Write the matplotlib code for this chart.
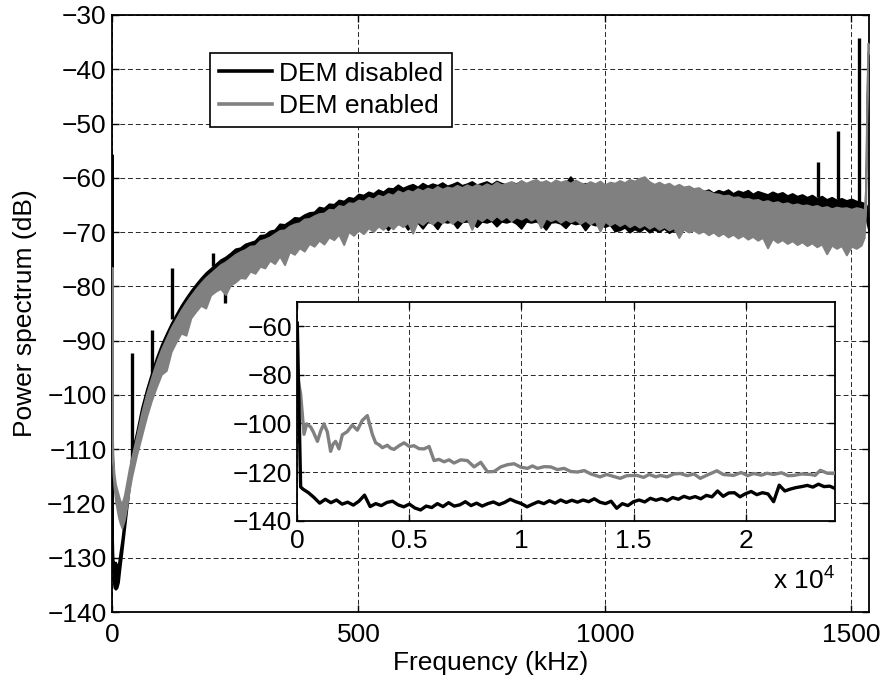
import numpy as np
import matplotlib
matplotlib.use("Agg")
import matplotlib.pyplot as plt

plt.rcParams["font.family"] = ["Liberation Sans", "DejaVu Sans"]
plt.rcParams["mathtext.fontset"] = "custom"
plt.rcParams["mathtext.rm"] = "Liberation Sans"
FS = 19

# ---------------- main spectrum (kHz, dB) ----------------
freq_khz = np.concatenate([
    [0, 0.8, 2, 4, 7, 10, 13, 16, 20, 25, 30, 35, 40, 45, 50],
    np.arange(60, 241, 10),
    np.arange(250, 1521, 10),
    [1526, 1529, 1531, 1533.5, 1536],
])

# DEM disabled: upper / lower envelope of the noisy trace
dis_hi = [
    -55.7, -126, -130.5, -131, -130.8, -131.5, -131, -129, -126.5, -122.5, -118.5, -115, -110.8, -108.7, -106.7,
    -102.3, -98.9, -95.9, -93.1, -90.7, -88.7, -86.8, -85.1, -83.5, -82.1, -80.8, -79.6, -78.5, -77.5, -76.7,
    -75.9, -75.1, -74.6, -73.9,
    -73.1, -72.9, -72.2, -71.9, -71.6, -70.6, -70.5, -69.8, -69.6, -68.5, -68.6, -68.0, -67.3, -67.4,
    -66.8, -66.4, -66.3, -65.4, -65.6, -64.8, -64.9, -64.1, -64.3, -63.6, -63.8, -63.0, -63.2, -62.6,
    -62.9, -62.2, -62.6, -61.9, -62.0, -61.3, -61.9, -61.5, -61.2, -61.7, -61.0, -61.5, -61.1, -61.4,
    -60.9, -61.5, -61.2, -60.8, -61.4, -61.1, -60.7, -61.3, -61.0, -60.7, -61.2, -60.6, -61.0, -61.3,
    -60.8, -61.1, -60.6, -61.2, -60.9, -61.3, -60.8, -61.0, -61.4, -60.9, -61.2, -61.0, -59.8, -61.1,
    -61.4, -61.0, -61.5, -61.2, -61.6, -61.3, -61.8, -61.4, -61.9, -61.6, -62.0, -61.7, -62.2, -61.8,
    -62.3, -62.0, -62.4, -61.9, -62.5, -62.2, -62.6, -62.0, -62.4, -62.7, -62.1, -62.5, -62.2, -62.8,
    -62.3, -62.6, -62.2, -62.9, -62.4, -62.7, -62.3, -63.0, -62.5, -62.8, -63.1, -62.6, -63.0, -62.7,
    -63.3, -62.9, -63.4, -63.1, -63.6, -63.2, -63.8, -63.4, -64.0, -63.6, -64.1, -63.8, -64.2, -63.9,
    -64.3, -64.5,
    -64.7, -64.9, -65.2, -67.0, -69.6,
]
dis_lo = [
    -56.2, -128, -134, -135.5, -135.8, -135.5, -134.5, -132, -129, -125, -121, -117, -114, -111, -108.5,
    -104, -100.5, -97.5, -95, -92.5, -90.4, -88.5, -86.9, -85.5, -84.2, -83, -81.8, -80.8, -79.9, -79.2,
    -78.6, -78.2, -77.9, -77.7,
    -77.5, -77.0, -76.6, -76.2, -75.7, -75.2, -74.8, -74.4, -74.0, -73.6, -73.2, -72.8, -72.5, -72.1,
    -71.8, -71.5, -71.2, -70.9, -70.6, -70.3, -70.1, -69.8, -69.6, -69.4, -69.2, -69.0, -68.8, -68.6,
    -69.5, -68.5, -68.4, -69.6, -68.3, -68.5, -68.2, -69.5, -68.3, -68.2, -69.3, -68.1, -68.3, -69.4,
    -68.0, -68.2, -68.0, -69.2, -68.1, -68.0, -68.3, -69.0, -68.0, -68.2, -67.9, -68.9, -68.0, -68.2,
    -67.9, -68.4, -69.3, -68.0, -68.2, -68.0, -68.4, -69.5, -68.2, -68.1, -68.4, -69.2, -68.2, -68.5,
    -68.3, -69.6, -68.4, -68.7, -68.5, -69.0, -68.6, -69.8, -69.6, -69.1, -70.0, -69.4, -69.9, -69.2,
    -70.0, -69.5, -69.9, -69.3, -70.1, -69.6, -70.0, -69.4, -69.9, -69.5, -69.8, -69.3, -69.0, -69.2,
    -68.8, -68.9, -68.6, -68.8, -68.4, -68.6, -68.3, -68.4, -68.1, -68.3, -68.0, -68.1, -67.8, -68.0,
    -67.7, -67.9, -67.6, -67.8, -67.5, -67.7, -67.4, -67.6, -67.3, -67.5, -67.2, -67.4, -67.1, -67.3,
    -67.0, -67.2,
    -67.4, -67.6, -68.0, -69.0, -70.0,
]

# DEM enabled: upper / lower envelope
en_hi = [
    -76.5, -108, -112, -114.5, -116.5, -117.5, -118.5, -119.5, -120, -118.5, -116, -113.5, -111.5, -109.5, -107.5,
    -103.3, -99.8, -96.8, -94.0, -91.6, -89.6, -87.6, -86.0, -84.4, -83.0, -81.7, -80.5, -79.4, -78.4, -77.6,
    -76.8, -76.0, -75.5, -74.8,
    -74.1, -73.6, -73.2, -72.6, -72.5, -71.6, -71.3, -70.9, -70.3, -69.7, -69.6, -68.9, -68.5, -68.3,
    -67.6, -67.5, -67.0, -66.6, -66.5, -65.8, -65.9, -65.1, -65.3, -64.6, -64.7, -64.1, -64.3, -63.6,
    -63.9, -63.2, -63.5, -62.9, -63.2, -62.4, -62.8, -62.3, -62.6, -62.0, -62.4, -61.9, -62.2, -61.6,
    -62.1, -61.7, -61.9, -61.4, -61.8, -61.3, -61.7, -61.2, -61.6, -61.1, -61.5, -60.8, -61.3, -61.0,
    -60.7, -61.2, -60.5, -61.0, -60.6, -60.3, -60.9, -60.5, -61.0, -60.4, -60.8, -60.5, -61.0, -60.4,
    -60.9, -61.2, -60.7, -61.1, -60.6, -61.3, -60.8, -61.0, -60.5, -60.9, -60.3, -60.6, -60.1, -59.8,
    -60.7, -61.2, -60.8, -61.3, -61.0, -61.6, -61.2, -61.7, -61.5, -62.0, -61.8, -62.4, -62.5, -62.9,
    -63.0, -63.3, -63.2, -63.6, -63.5, -63.9, -63.8, -64.1, -64.0, -64.4, -64.2, -64.6, -64.4, -64.8,
    -64.6, -65.0, -64.8, -65.1, -65.0, -65.3, -65.1, -65.5, -65.3, -65.7, -65.4, -65.6, -65.5, -65.8,
    -65.5, -65.7,
    -66.0, -62.0, -48.0, -35.2, -35.5,
]
en_lo = [
    -77, -110, -114.5, -117, -119.5, -121, -122.5, -123.5, -124.5, -123, -120.5, -117.5, -115, -113, -111,
    -107.5, -104, -101, -98.5, -96.2, -95.5, -92, -90.2, -88.6, -89.0, -85.8, -84.6, -83.5, -84.0, -81.6,
    -80.9, -80.4, -81.5, -79.8,
    -79.2, -78.4, -78.5, -77.2, -77.6, -76.3, -76.6, -75.2, -75.8, -74.4, -76.0, -73.6, -74.1, -72.9,
    -73.5, -72.1, -72.6, -71.5, -72.2, -70.9, -71.4, -70.4, -72.3, -69.9, -70.6, -69.6, -70.3, -69.2,
    -69.9, -68.9, -69.5, -68.6, -69.4, -68.4, -69.0, -68.2, -70.2, -68.0, -68.6, -67.8, -68.5, -67.7,
    -68.3, -67.5, -68.4, -67.6, -68.1, -67.4, -69.5, -67.3, -67.9, -67.2, -67.8, -67.0, -67.7, -67.1,
    -67.9, -67.2, -67.6, -67.1, -67.8, -67.3, -69.2, -67.4, -67.9, -67.5, -68.2, -67.6, -68.1, -67.7,
    -68.4, -67.8, -68.5, -67.9, -69.8, -68.0, -68.7, -68.2, -68.8, -68.3, -69.0, -68.5, -69.1, -68.6,
    -69.3, -68.8, -69.5, -69.0, -69.6, -69.2, -71.0, -69.4, -70.0, -69.6, -70.2, -69.8, -70.5, -70.0,
    -70.7, -70.2, -70.9, -70.4, -71.1, -70.6, -71.3, -70.8, -71.5, -71.0, -72.9, -71.2, -71.9, -71.4,
    -72.1, -71.6, -72.3, -71.8, -72.5, -72.0, -72.7, -72.2, -74.0, -72.4, -73.0, -72.5, -74.2, -72.6,
    -73.0, -72.4,
    -71.0, -66.0, -50.0, -37.0, -37.0,
]

# narrow tones on the DEM-disabled trace
tone_khz = [40.5, 81, 121.6, 204.7, 229.6, 1433, 1473, 1515.5]
tone_from = [-111.5, -96.0, -86.0, -76.2, -77.7, -63.6, -64.0, -64.4]
tone_to = [-92.2, -88.0, -76.6, -73.8, -83.0, -57.0, -51.3, -34.3]

# ---------------- low-frequency detail (Hz, dB) ----------------
zoom_dis_hz = [0, 150, 250, 500, 750, 1000, 1250, 1500, 1750, 2000, 2250, 2500, 2750, 3000, 3250, 3500,
               3750, 4000, 4250, 4500, 4750, 5000, 5250, 5500, 5750, 6000, 6250, 6500, 6750, 7000, 7250,
               7500, 7750, 8000, 8250, 8500, 8750, 9000, 9250, 9500, 9750, 10000, 10250, 10500, 10750,
               11000, 11250, 11500, 11750, 12000, 12250, 12500, 12750, 13000, 13250, 13500, 13750, 14000,
               14250, 14500, 14750, 15000, 15250, 15500, 15750, 16000, 16250, 16500, 16750, 17000, 17250,
               17500, 17750, 18000, 18250, 18500, 18750, 19000, 19250, 19500, 19750, 20000, 20250, 20500,
               20750, 21000, 21250, 21500, 21750, 22000, 22250, 22500, 22750, 23000, 23250, 23500, 23750,
               24000]
zoom_dis_db = [-58.8, -126.1, -127.0, -128.5, -130.5, -132.8, -131.2, -132.6, -131.5, -133.2, -132.4,
               -133.6, -132.0, -129.5, -134.2, -133.0, -133.8, -132.5, -132.0, -133.5, -134.3, -133.2,
               -134.8, -135.6, -134.0, -134.6, -133.0, -134.2, -132.6, -134.0, -133.5, -132.2, -133.8,
               -132.8, -134.0, -133.0, -132.3, -133.4, -132.5, -131.2, -132.2, -133.0, -134.3, -133.2,
               -132.2, -133.0, -131.8, -132.8, -131.5, -132.5, -131.6, -132.4, -131.5, -132.2, -131.0,
               -132.4, -133.0, -132.0, -134.9, -133.0, -133.8, -132.2, -131.5, -132.3, -130.8, -131.6,
               -130.9, -131.8, -130.5, -131.2, -130.0, -130.8, -130.1, -131.0, -129.6, -130.2, -127.8,
               -130.0, -128.6, -128.5, -130.2, -128.9, -128.0, -129.3, -128.5, -129.0, -132.2, -125.4,
               -127.8, -127.0, -126.4, -126.0, -125.5, -126.2, -125.0, -126.0, -125.8, -126.8]

zoom_en_hz = [0, 150, 300, 420, 600, 714, 900, 1050, 1190, 1340, 1488, 1600, 1710, 1860, 2010, 2230,
              2455, 2680, 2900, 3125, 3348, 3497, 3650, 3795, 4018, 4160, 4315, 4540, 4762, 5000, 5208,
              5430, 5655, 5880, 6100, 6320, 6548, 6770, 6994, 7290, 7590, 7887, 8185, 8482, 8780, 9077,
              9375, 9673, 9970, 10268, 10490, 10714, 11010, 11310, 11600, 11905, 12200, 12500, 12800,
              13100, 13512, 13800, 14100, 14405, 14700, 15152, 15450, 15700, 16000, 16192, 16500, 16800,
              17084, 17400, 17700, 17976, 18300, 18720, 19000, 19464, 19800, 20100, 20357, 20700, 20950,
              21250, 21600, 21900, 22143, 22500, 22887, 23100, 23333, 23650, 23929, 24000]
zoom_en_db = [-80.0, -88.0, -104.5, -100.2, -101.5, -103.5, -107.4, -103.0, -100.2, -103.5, -111.5,
              -108.5, -107.4, -110.5, -104.7, -103.4, -100.7, -102.8, -98.8, -96.8, -104.5, -108.0,
              -108.8, -110.0, -109.0, -110.2, -110.7, -109.2, -108.0, -109.5, -109.2, -110.4, -110.5,
              -109.5, -115.3, -114.8, -115.8, -115.0, -116.3, -115.0, -115.3, -117.9, -116.0, -119.9,
              -119.8, -117.9, -117.0, -116.6, -118.0, -118.5, -117.5, -118.5, -117.8, -117.9, -119.0,
              -118.5, -119.8, -120.0, -119.4, -120.8, -122.0, -121.0, -121.8, -122.6, -121.5, -121.4,
              -122.2, -121.0, -122.0, -121.4, -122.0, -120.8, -120.6, -121.5, -120.8, -122.6, -121.2,
              -119.5, -121.0, -121.4, -120.2, -121.5, -120.6, -121.3, -120.5, -121.0, -120.3, -121.5,
              -121.4, -120.8, -121.0, -121.4, -119.3, -120.5, -120.6, -120.2]

main_xticks = [0, 500, 1000, 1500]
main_yticks = list(range(-140, -29, 10))
zoom_xticks = [0, 5000, 10000, 15000, 20000]
zoom_xticklabels = ["0", "0.5", "1", "1.5", "2"]
zoom_yticks = [-140, -120, -100, -80, -60]

BLACK = "#000000"
GRAY = "#808080"
GRID = dict(linestyle=(0, (5, 3)), color="0.15", linewidth=0.7)

fig = plt.figure(figsize=(8.85, 6.8), dpi=100)
ax = fig.add_axes([0.1266, 0.1, 0.8554, 0.878])

ax.fill_between(freq_khz, dis_lo, dis_hi, facecolor=BLACK, edgecolor=BLACK, linewidth=1.4, zorder=2)
ax.vlines(tone_khz, tone_from, tone_to, colors=BLACK, linewidth=2.4, zorder=2)
ax.fill_between(freq_khz, en_lo, en_hi, facecolor=GRAY, edgecolor=GRAY, linewidth=1.4, zorder=3)

# legend proxies
ax.plot([], [], color=BLACK, linewidth=2.6, label="DEM disabled")
ax.plot([], [], color=GRAY, linewidth=2.6, label="DEM enabled")

ax.set_xlim(0, 1536)
ax.set_ylim(-140, -30)
ax.set_xticks(main_xticks)
ax.set_yticks(main_yticks)
ax.set_axisbelow(True)
ax.grid(True, **GRID)
ax.tick_params(direction="in", length=5, width=1, top=True, right=True, labelsize=FS)
ax.tick_params(axis="x", pad=8)
ax.tick_params(axis="y", pad=4)
for s in ax.spines.values():
    s.set_linewidth(1.3)
ax.set_xlabel("Frequency (kHz)", fontsize=FS, labelpad=3)
ax.set_ylabel("Power spectrum (dB)", fontsize=FS, labelpad=7)

leg = ax.legend(loc="upper left", bbox_to_anchor=(0.1295, 0.9363), borderaxespad=0,
                fontsize=FS, frameon=True, fancybox=False, framealpha=1, edgecolor="black",
                handlelength=2.0, handletextpad=0.3, labelspacing=0.33, borderpad=0.33)
leg.get_frame().set_linewidth(1.2)

# inset: low-frequency detail
axi = fig.add_axes([0.3359, 0.2343, 0.6079, 0.322])
axi.set_facecolor("white")
axi.plot(zoom_en_hz, zoom_en_db, color=GRAY, linewidth=2.4, zorder=3)
axi.plot(zoom_dis_hz, zoom_dis_db, color=BLACK, linewidth=2.4, zorder=4)
axi.set_xlim(0, 24000)
axi.set_ylim(-140, -50)
axi.set_xticks(zoom_xticks)
axi.set_xticklabels(zoom_xticklabels)
axi.set_yticks(zoom_yticks)
axi.set_axisbelow(True)
axi.grid(True, **GRID)
axi.tick_params(direction="in", length=5, width=1, top=True, right=True, labelsize=FS)
axi.tick_params(axis="x", pad=6)
axi.tick_params(axis="y", pad=3.5)
for s in axi.spines.values():
    s.set_linewidth(1.3)
fig.text(0.9435, 0.147, r"x 10$^{4}$", ha="right", va="center", fontsize=FS)

fig.savefig("out.png", dpi=100)
